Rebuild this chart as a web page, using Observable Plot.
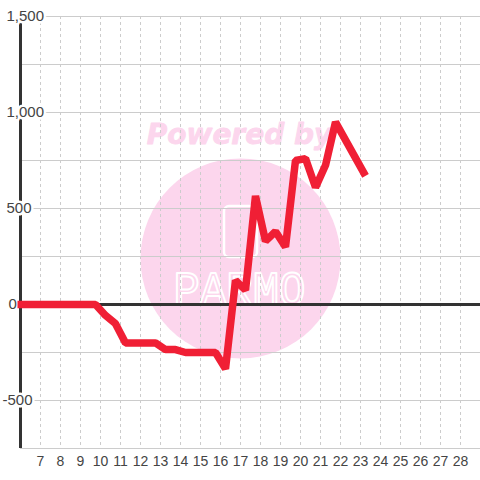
<!DOCTYPE html>
<html><head><meta charset="utf-8">
<script src="https://cdn.jsdelivr.net/npm/d3@7"></script>
<script src="https://cdn.jsdelivr.net/npm/@observablehq/plot@0.6"></script>
<style>html,body{margin:0;padding:0;background:#fff}svg{display:block}</style>
</head><body><div id="chart"></div>
<script>
const days = [5.85, 9.75, 10.25, 10.75, 11.25, 12.75, 13.25, 13.75, 14.25, 15.75, 16.25, 16.75, 17.25, 17.75, 18.25, 18.75, 19.25, 19.75, 20.25, 20.75, 21.25, 21.75, 23.25];
const values = [0, 0, -57, -100, -200, -200, -235, -235, -250, -250, -335, 125, 75, 565, 330, 380, 300, 750, 760, 610, 725, 950, 670];
const xTicks = d3.range(7, 29);
const yMajor = [1500, 1000, 500, 0, -500];
const yMinor = [1250, 750, 250, -250];
const yLabels = ["1,500", "1,000", "500", "0", "-500"];
const yLabelDx = [-14, -14, -14, -12, -18];
const series = days.map((d, i) => ({day: d, value: values[i]}));
const labelFont = "Liberation Sans";
const pink = "#fcd6ed";
const plot = Plot.plot({
  width: 480, height: 480,
  marginLeft: 20, marginRight: 0, marginTop: 16, marginBottom: 32,
  style: {background: "#fff", fontFamily: labelFont},
  x: {type: "linear", domain: [6, 29], axis: null},
  y: {type: "linear", domain: [-750, 1500], axis: null},
  marks: [
    Plot.dot([{day: 17, value: 240}], {x: "day", y: "value", r: 100, fill: pink}),
    Plot.rect([{x1: 16.2, x2: 17.85, y1: 245, y2: 510}], {x1: "x1", x2: "x2", y1: "y1", y2: "y2", fill: "none", stroke: "#fff", strokeWidth: 2.5, rx: 5}),
    Plot.text(["PARMO"], {x: () => 16.95, y: () => 78, text: d => d, fill: "none", stroke: "#fff", strokeWidth: 2, fontSize: 48, fontFamily: "Liberation Mono", className: "logo"}),
    Plot.text(["Powered by"], {x: () => 16.95, y: () => 885, text: d => d, fill: pink, stroke: pink, strokeWidth: 0.8, fontSize: 28, fontWeight: "bold", fontStyle: "italic", fontFamily: "DejaVu Sans"}),
    Plot.gridX(xTicks, {stroke: "#ccc", strokeOpacity: 1, strokeWidth: 1, strokeDasharray: "3 3"}),
    Plot.gridY([...yMajor, ...yMinor, -750], {stroke: "#ccc", strokeOpacity: 1, strokeWidth: 1.2}),
    Plot.ruleX([6], {y1: -750, y2: 1500, stroke: "#333", strokeWidth: 3}),
    Plot.ruleY([0], {stroke: "#333", strokeWidth: 3}),
    ...yMajor.map((v, i) => Plot.text([v], {x: () => 6, y: d => d, text: () => yLabels[i], textAnchor: "start", dx: yLabelDx[i], fontSize: 15, fill: "#444", stroke: "#fff", strokeWidth: 5, fontFamily: labelFont})),
    Plot.line(series, {x: "day", y: "value", stroke: "#f01f35", strokeWidth: 7.5, strokeLinejoin: "bevel", strokeLinecap: "butt", curve: "linear"}),
    Plot.text(xTicks, {x: d => d, y: () => -750, text: d => String(d), dy: 13, fontSize: 14, fill: "#444", fontFamily: labelFont})
  ]
});
d3.select(plot).selectAll(".logo text").attr("textLength", 132).attr("lengthAdjust", "spacingAndGlyphs");
document.getElementById("chart").append(plot);
</script></body></html>
